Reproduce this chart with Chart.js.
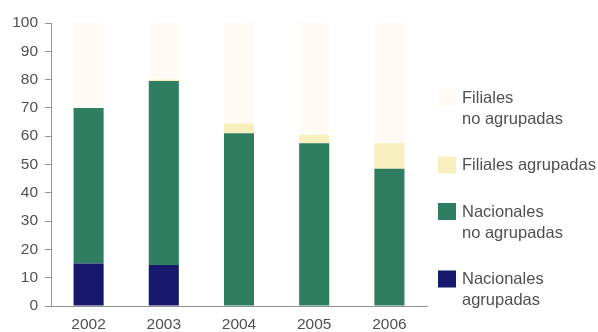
<!DOCTYPE html>
<html>
<head>
<meta charset="utf-8">
<script src="https://cdn.jsdelivr.net/npm/chart.js@4.4.1/dist/chart.umd.min.js"></script>
<style>
  html, body { margin: 0; padding: 0; background: #fff; }
  #wrap { width: 598px; height: 332px; position: relative; }
</style>
</head>
<body>
<div id="wrap"><canvas id="empresas"></canvas></div>
<script>
// ─── Data ─────────────────────────────────────────────────────────
const years = ['2002', '2003', '2004', '2005', '2006'];

const nacionalesAgrupadas   = [15, 14.5, 0, 0, 0];
const nacionalesNoAgrupadas = [55, 65, 61, 57.5, 48.5];
const filialesAgrupadas     = [0, 0.5, 3.5, 3, 9];
const filialesNoAgrupadas   = [30, 20, 35.5, 39.5, 42.5];

const yTicks = [0, 10, 20, 30, 40, 50, 60, 70, 80, 90, 100];

const COLORS = {
  navy:   '#16186b',
  green:  '#2f7e61',
  yellow: '#f8efbe',
  pale:   '#fdfbf4',
  text:   '#505050',
  axis:   '#939393',
};
const FONT = "'Liberation Sans', Arial, sans-serif";

// legend entries, top to bottom (multi-line labels)
const legendEntries = [
  { lines: ['Filiales', 'no agrupadas'],   color: COLORS.pale },
  { lines: ['Filiales agrupadas'],         color: COLORS.yellow },
  { lines: ['Nacionales', 'no agrupadas'], color: COLORS.green },
  { lines: ['Nacionales', 'agrupadas'],    color: COLORS.navy },
];

// ─── Side legend ──────────────────────────────────────────────────
const sideLegend = {
  id: 'sideLegend',
  afterDraw(chart) {
    const ctx = chart.ctx;
    const swX = 438, txtX = 462, lineH = 21, gap = 46.5;
    let y = 98;
    ctx.save();
    ctx.font = '16.5px ' + FONT;
    ctx.textBaseline = 'middle';
    ctx.textAlign = 'left';
    legendEntries.forEach(e => {
      ctx.fillStyle = e.color;
      ctx.fillRect(swX, y - 9, 18, 17);
      ctx.fillStyle = COLORS.text;
      e.lines.forEach((ln, i) => ctx.fillText(ln, txtX, y + i * lineH));
      y += (e.lines.length - 1) * lineH + gap;
    });
    ctx.restore();
  }
};

const barDefaults = { barPercentage: 0.4, categoryPercentage: 1, borderWidth: 0 };

new Chart(document.getElementById('empresas'), {
  type: 'bar',
  data: {
    labels: years,
    datasets: [
      { label: 'Nacionales agrupadas',    data: nacionalesAgrupadas,   backgroundColor: COLORS.navy,   ...barDefaults },
      { label: 'Nacionales no agrupadas', data: nacionalesNoAgrupadas, backgroundColor: COLORS.green,  ...barDefaults },
      { label: 'Filiales agrupadas',      data: filialesAgrupadas,     backgroundColor: COLORS.yellow, ...barDefaults },
      { label: 'Filiales no agrupadas',   data: filialesNoAgrupadas,   backgroundColor: COLORS.pale,   ...barDefaults },
    ]
  },
  options: {
    responsive: true,
    maintainAspectRatio: false,
    animation: false,
    layout: { padding: { top: 23, right: 171, bottom: 0, left: 0 } },
    plugins: {
      legend: { display: false },
      tooltip: { enabled: false },
    },
    scales: {
      x: {
        stacked: true,
        grid: { display: false, drawTicks: false },
        border: { display: true, color: COLORS.axis, width: 1 },
        ticks: { color: COLORS.text, font: { family: FONT, size: 15.5 }, padding: 9 },
        afterFit: s => { s.height = 26; },
      },
      y: {
        stacked: true,
        min: 0,
        max: 100,
        afterBuildTicks: s => { s.ticks = yTicks.map(v => ({ value: v })); },
        grid: { drawOnChartArea: false, drawTicks: true, tickLength: 6, color: COLORS.axis },
        border: { display: true, color: COLORS.axis, width: 1 },
        ticks: { color: COLORS.text, font: { family: FONT, size: 15.5 }, padding: 7 },
        afterFit: s => { s.width = 51; },
      }
    }
  },
  plugins: [sideLegend]
});
</script>
</body>
</html>
